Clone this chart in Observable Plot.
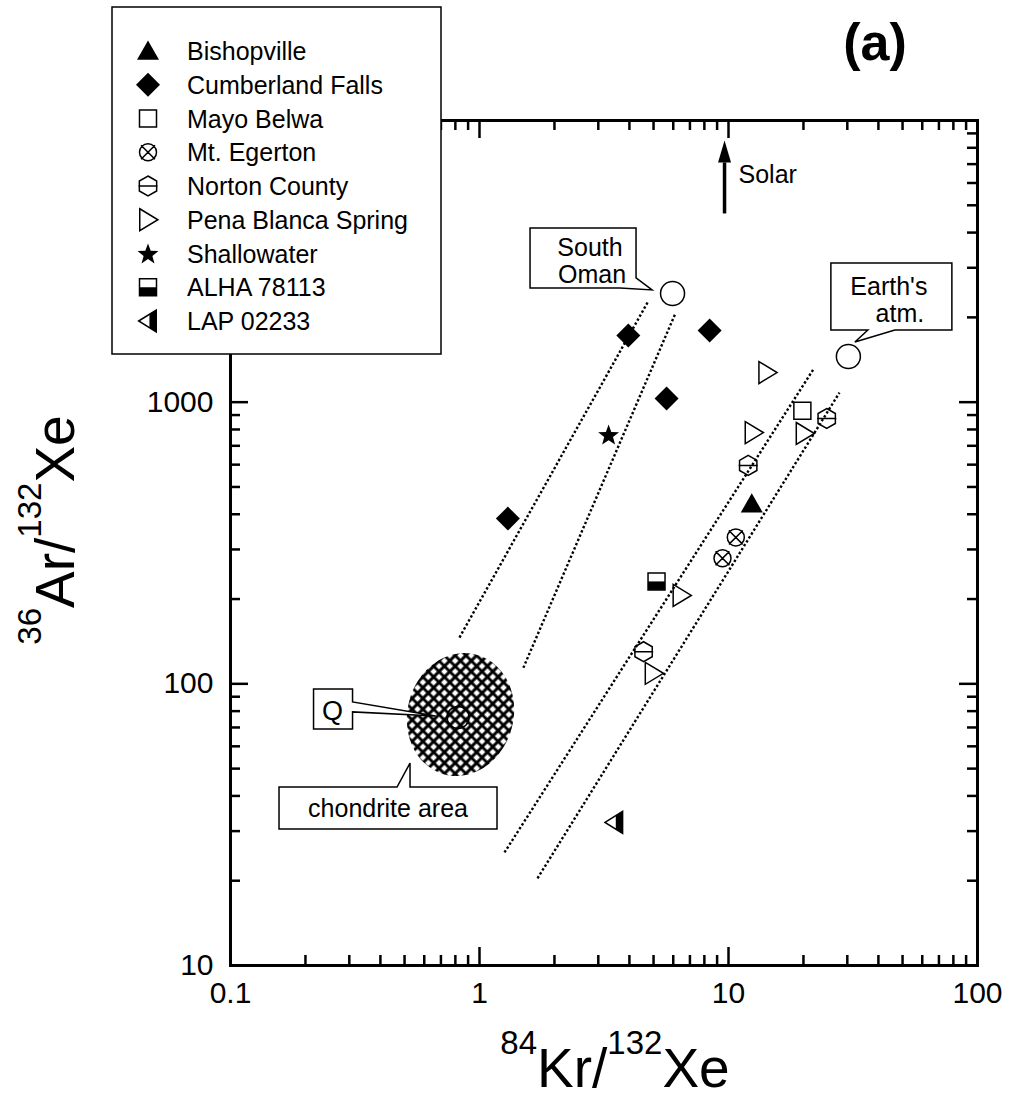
<!DOCTYPE html>
<html><head><meta charset="utf-8">
<script src="https://cdn.jsdelivr.net/npm/d3@7"></script>
<script src="https://cdn.jsdelivr.net/npm/@observablehq/plot@0.6"></script>
<style>html,body{margin:0;padding:0;background:#fff;} svg{display:block;}</style>
</head><body><div id="chart"></div>
<script>
// ---------------- data (84Kr/132Xe, 36Ar/132Xe) ----------------
const bishopville      = [[12.4, 436]];
const cumberlandFalls  = [[1.30, 386], [3.96, 1725], [8.40, 1795], [5.64, 1030]];
const mayoBelwa        = [[19.8, 933]];
const mtEgerton        = [[10.7, 331], [9.46, 279]];
const nortonCounty     = [[24.8, 875], [12.0, 596], [4.56, 130]];
const penaBlanca       = [[14.3, 1274], [12.6, 780], [20.2, 774], [6.47, 206], [5.0, 109]];
const shallowater      = [[3.30, 767]];
const alha78113        = [[5.14, 231]];
const lap02233         = [[3.48, 32.2]];
const seriesNames = ["Bishopville","Cumberland Falls","Mayo Belwa","Mt. Egerton","Norton County","Pena Blanca Spring","Shallowater","ALHA 78113","LAP 02233"];
const seriesData  = [bishopville, cumberlandFalls, mayoBelwa, mtEgerton, nortonCounty, penaBlanca, shallowater, alha78113, lap02233];

// reference compositions
const southOman  = [5.96, 2432];
const earthAtm   = [30.3, 1452];
const qPoint     = [0.82, 76];
const chondrite  = [0.839, 77.8];

// dotted trend lines [x1, y1, x2, y2]
const trendLines = [
  [0.831, 146, 4.73, 2259],
  [1.50, 114, 6.12, 2066],
  [1.26, 25.2, 21.9, 1306],
  [1.71, 20.4, 27.9, 1081]
];

// solar arrow: x, y of tail, y of head base; label x, y
const solarArrow = [9.64, 4677, 7096];
const solarLabel = [10.97, 6427, "Solar"];

// axes
const xTickValues = [0.1, 1, 10, 100];
const xTickLabels = ["0.1", "1", "10", "100"];
const yTickValues = [10, 100, 1000];
const yTickLabels = ["10", "100", "1000"];
const yMajorTicks = [10, 100, 1000, 10000];
const xMinorTicks = [0.1, 1, 10].flatMap(d => [2,3,4,5,6,7,8,9].map(k => +(d*k).toPrecision(3)));
const yMinorTicks = [10, 100, 1000].flatMap(d => [2,3,4,5,6,7,8,9].map(k => d*k));

// ---------------- symbols ----------------
const shapes = {
  triUp: (c,r)=>{c.moveTo(0,-r*0.95);c.lineTo(r,r*0.8);c.lineTo(-r,r*0.8);c.closePath();},
  diamond: (c,r)=>{c.moveTo(0,-r);c.lineTo(r,0);c.lineTo(0,r);c.lineTo(-r,0);c.closePath();},
  square: (c,r)=>{c.moveTo(-r,-r);c.lineTo(r,-r);c.lineTo(r,r);c.lineTo(-r,r);c.closePath();},
  halfSq: (c,r)=>{c.moveTo(-r,0);c.lineTo(r,0);c.lineTo(r,r);c.lineTo(-r,r);c.closePath();},
  circX: (c,r)=>{c.moveTo(r,0);c.arc(0,0,r,0,2*Math.PI);const a=r*0.82;c.moveTo(-a,-a);c.lineTo(a,a);c.moveTo(a,-a);c.lineTo(-a,a);},
  hex: (c,r)=>{for(let k=0;k<6;k++){const t=(-90+60*k)*Math.PI/180;const px=r*Math.cos(t),py=r*Math.sin(t);k?c.lineTo(px,py):c.moveTo(px,py);}c.closePath();const w=r*Math.cos(Math.PI/6);c.moveTo(-w-1,0);c.lineTo(w+1,0);},
  triRight: (c,r)=>{c.moveTo(-0.75*r,-r);c.lineTo(0.9*r,0);c.lineTo(-0.75*r,r);c.closePath();},
  star: (c,r)=>{for(let k=0;k<10;k++){const rr=k%2?r*0.42:r;const t=(-90+36*k)*Math.PI/180;const px=rr*Math.cos(t),py=rr*Math.sin(t)+1;k?c.lineTo(px,py):c.moveTo(px,py);}c.closePath();},
  triLeft: (c,r)=>{c.moveTo(-0.85*r,0);c.lineTo(0.75*r,-r);c.lineTo(0.75*r,r);c.closePath();},
  triLeftFill: (c,r)=>{const x0=0.13*r,h=r*(x0+0.85*r)/(1.6*r);c.moveTo(x0,-h);c.lineTo(0.75*r,-r);c.lineTo(0.75*r,r);c.lineTo(x0,h);c.closePath();},
  ellipse: (c,r)=>{const rx=r*0.855,ry=r,k=0.5523;c.moveTo(0,-ry);c.bezierCurveTo(k*rx,-ry,rx,-k*ry,rx,0);c.bezierCurveTo(rx,k*ry,k*rx,ry,0,ry);c.bezierCurveTo(-k*rx,ry,-rx,k*ry,-rx,0);c.bezierCurveTo(-rx,-k*ry,-k*rx,-ry,0,-ry);c.closePath();},
  head: (c,r)=>{c.moveTo(0,-22);c.lineTo(6.5,0);c.lineTo(-6.5,0);c.closePath();}
};
const mk = f => ({draw(ctx,size){const r=Math.sqrt(size/Math.PI); f(ctx,r);}});

const seriesStyle = [
  [{shape:"triUp", r:11, fill:"black", stroke:"none"}],
  [{shape:"diamond", r:12, fill:"black", stroke:"none"}],
  [{shape:"square", r:8.5, fill:"none", stroke:"black"}],
  [{shape:"circX", r:8.5, fill:"none", stroke:"black"}],
  [{shape:"hex", r:10, fill:"none", stroke:"black"}],
  [{shape:"triRight", r:11, fill:"none", stroke:"black"}],
  [{shape:"star", r:11, fill:"black", stroke:"none"}],
  [{shape:"square", r:8.5, fill:"white", stroke:"black"},{shape:"halfSq", r:8.5, fill:"black", stroke:"none"}],
  [{shape:"triLeft", r:11, fill:"none", stroke:"black"},{shape:"triLeftFill", r:11, fill:"black", stroke:"none"}]
];

// ---------------- plot ----------------
const W=1011, H=1103, mL=230, mR=34, mT=120, mB=138;
const plotW = W-mL-mR, plotH = H-mT-mB;
const FONT = "'Liberation Sans', Arial, Helvetica, sans-serif";

const markerMarks = seriesData.flatMap((data,i)=>seriesStyle[i].map(l=>
  Plot.dot(data, {x:d=>d[0], y:d=>d[1], symbol: mk(shapes[l.shape]), r:l.r, fill:l.fill, stroke:l.stroke, strokeWidth:1.5})));

const plot = Plot.plot({
  width: W, height: H,
  marginLeft: mL, marginRight: mR, marginTop: mT, marginBottom: mB,
  style: {fontFamily: FONT, color: "black", background: "white", overflow: "visible"},
  x: {type: "log", domain: [0.1, 100], axis: null},
  y: {type: "log", domain: [10, 10000], axis: null},
  marks: [
    Plot.dot([chondrite], {x:d=>d[0], y:d=>d[1], symbol: mk(shapes.ellipse), r:62, rotate:15, fill:"url(#hatch)", stroke:"none"}),
    Plot.dot([qPoint], {x:d=>d[0], y:d=>d[1], r:11, fill:"none", stroke:"black", strokeWidth:1.5}),
    Plot.link(trendLines, {x1:d=>d[0], y1:d=>d[1], x2:d=>d[2], y2:d=>d[3], stroke:"black", strokeWidth:2.4, strokeDasharray:"2.4 2.2"}),
    ...markerMarks,
    Plot.dot([southOman, earthAtm], {x:d=>d[0], y:d=>d[1], r:12, fill:"white", stroke:"black", strokeWidth:1.5}),
    // solar arrow
    Plot.link([solarArrow], {x1:d=>d[0], x2:d=>d[0], y1:d=>d[1], y2:d=>d[2], stroke:"black", strokeWidth:3.5}),
    Plot.dot([solarArrow], {x:d=>d[0], y:d=>d[2], symbol: mk(shapes.head), r:5, fill:"black", stroke:"none"}),
    Plot.text([solarLabel], {x:d=>d[0], y:d=>d[1], text:d=>d[2], textAnchor:"start", fontSize:25}),
    // ticks (inward)
    Plot.tickX(xTickValues, {x:d=>d, insetTop: plotH-18, strokeWidth:2.5}),
    Plot.tickX(xMinorTicks, {x:d=>d, insetTop: plotH-10, strokeWidth:2.5}),
    Plot.tickX(xTickValues, {x:d=>d, insetBottom: plotH-18, strokeWidth:2.5}),
    Plot.tickX(xMinorTicks, {x:d=>d, insetBottom: plotH-10, strokeWidth:2.5}),
    Plot.tickY(yMajorTicks, {y:d=>d, insetRight: plotW-18, strokeWidth:2.5}),
    Plot.tickY(yMinorTicks, {y:d=>d, insetRight: plotW-10, strokeWidth:2.5}),
    Plot.tickY(yMajorTicks, {y:d=>d, insetLeft: plotW-18, strokeWidth:2.5}),
    Plot.tickY(yMinorTicks, {y:d=>d, insetLeft: plotW-10, strokeWidth:2.5}),
    Plot.frame({stroke:"black", strokeWidth:3}),
    // tick labels
    Plot.text(xTickValues, {x:d=>d, text:(d,i)=>xTickLabels[i], frameAnchor:"bottom", dy:37, fontSize:30}),
    Plot.text(yTickValues, {y:d=>d, text:(d,i)=>yTickLabels[i], frameAnchor:"left", textAnchor:"end", dx:-17, fontSize:30})
  ]
});

document.getElementById("chart").appendChild(plot);
const svg = d3.select(plot);
const X = plot.scale("x"), Y = plot.scale("y");
const px = p => [X.apply(p[0]), Y.apply(p[1])];

// hatch pattern
const defs = svg.insert("defs", ":first-child");
const S = 7.6;
const pat = defs.append("pattern").attr("id","hatch").attr("patternUnits","userSpaceOnUse")
  .attr("width",S).attr("height",S).attr("patternTransform","rotate(30)");
pat.append("rect").attr("width",S).attr("height",S).attr("fill","white");
pat.append("path").attr("d",`M0,0H${S}M0,${S}H${S}M0,0V${S}M${S},0V${S}`).attr("stroke","black").attr("stroke-width",3);

// callouts (pixel offsets relative to anchor)
const ann = svg.append("g").attr("font-family", FONT).attr("fill","black");
function callout(anchor, d, lines) {
  const [ax, ay] = px(anchor);
  const g = ann.append("g").attr("transform", `translate(${ax},${ay})`);
  g.append("path").attr("d", d).attr("fill","white").attr("stroke","black").attr("stroke-width",1.5);
  lines.forEach(([t, x, y, fs]) => g.append("text").attr("x",x).attr("y",y).attr("text-anchor","middle").attr("font-size",fs).text(t));
}
callout(southOman, "M-142,-65H-36V-15L-20,-3L-52,-5H-142Z", [["South",-82,-37,25],["Oman",-80,-10,25]]);
callout(earthAtm, "M-17,-93H104V-26H47L7,-14L20,-26H-17Z", [["Earth's",41,-61,25],["atm.",52,-34,25]]);
callout(qPoint, "M-144,-28H-105V-15L-22,-1L-105,-5V12H-144Z", [["Q",-125,3,27]]);
callout(chondrite, "M-181,73H-63L-50,49V73H37V115H-181Z", [["chondrite area",-72,103,25]]);

// panel label
ann.append("text").attr("x",875).attr("y",60).attr("text-anchor","middle").attr("font-size",52).attr("font-weight","bold").text("(a)");

// axis titles with superscripts
function title(x, y, rot, parts, fs, sfs, raise) {
  const t = ann.append("text").attr("transform", `translate(${x},${y}) rotate(${rot})`).attr("text-anchor","middle");
  let prev = 0;
  parts.forEach(([s, sup]) => {
    const off = sup ? -raise : 0;
    t.append("tspan").attr("dy", off - prev).attr("font-size", sup ? sfs : fs).text(s);
    prev = off;
  });
}
title(615, 1087, 0, [["84",1],["Kr/",0],["132",1],["Xe",0]], 55, 33, 33);
title(74, 530, -90, [["36",1],["Ar/",0],["132",1],["Xe",0]], 55, 33, 33);

// legend
const lg = svg.append("g").attr("font-family", FONT);
lg.append("rect").attr("x",112).attr("y",7).attr("width",329).attr("height",347).attr("fill","white").attr("stroke","black").attr("stroke-width",1.5);
seriesNames.forEach((name, i) => {
  const cy = 51 + 33.75*i;
  seriesStyle[i].forEach(l => {
    const p = d3.path(); shapes[l.shape](p, l.r);
    lg.append("path").attr("d", p.toString()).attr("transform", `translate(148,${cy})`)
      .attr("fill", l.fill).attr("stroke", l.stroke).attr("stroke-width", 1.5);
  });
  lg.append("text").attr("x",187).attr("y",cy+9).attr("text-anchor","start").attr("font-size",25).text(name);
});
</script>
</body></html>
